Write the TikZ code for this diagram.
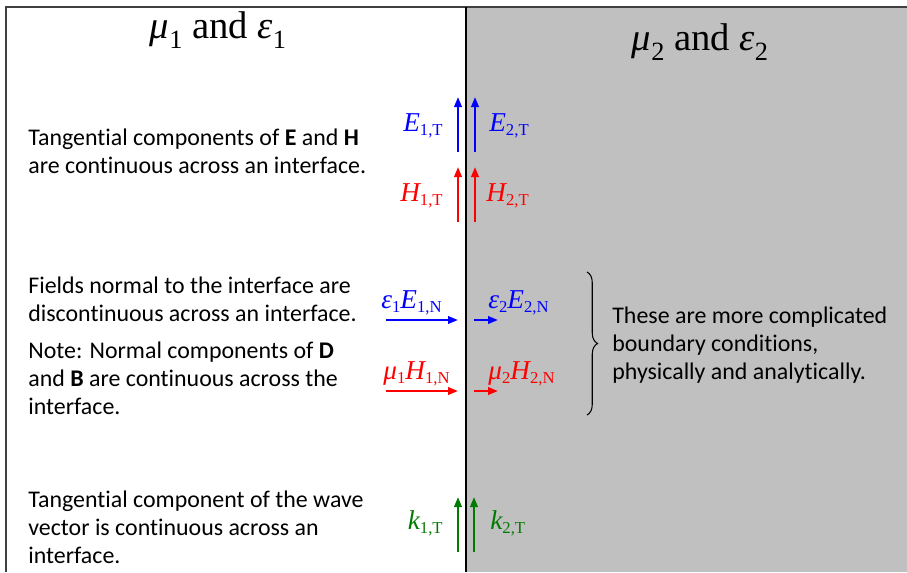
\documentclass[tikz,border=0pt]{standalone}
\usepackage{fontspec}
\setmainfont{Carlito}[Ligatures=NoCommon]
\newfontfamily\tms{Liberation Serif}
\usetikzlibrary{arrows.meta,decorations.pathreplacing}
\definecolor{fieldE}{HTML}{0000FF}
\definecolor{fieldH}{HTML}{FF0000}
\definecolor{wavek}{HTML}{007A00}
\definecolor{medium}{HTML}{C0C0C0}
\definecolor{frame}{HTML}{404040}
\tikzset{
  vec/.style={line width=1.2pt, -{Triangle[length=2.0mm,width=1.5mm]}},
  sym/.style={font=\tms\fontsize{15.5}{18}\selectfont, inner sep=0pt},
  body/.style={font=\fontsize{13.6}{15.9}\selectfont, align=left, anchor=west, inner sep=0pt},
  title/.style={font=\tms\fontsize{22}{26}\selectfont, inner sep=0pt, anchor=base}
}
\newcommand{\fieldsym}[2]{{\itshape #1}\raisebox{-0.35ex}{\fontsize{9.5}{10}\selectfont #2}}
\newcommand{\titlesym}[2]{{\itshape #1}\raisebox{-0.6ex}{\fontsize{15}{16}\selectfont #2}}

\begin{document}
\begin{tikzpicture}[x=0.02cm,y=-0.02cm]
\path[use as bounding box] (0,0) rectangle (907,572);
\fill[white] (0,0) rectangle (907,572);
\fill[medium] (466,7) rectangle (907,572);
\draw[frame, line width=1.2pt] (6,572) -- (6,7) -- (907,7);
\draw[black, line width=1.2pt] (466,7) -- (466,572);

% media
\node[title] (left) at (218,38) {\titlesym{μ}{1} and \titlesym{ε}{1}};
\node[title] (right) at (700,50) {\titlesym{μ}{2} and \titlesym{ε}{2}};

% tangential E and H
\node[body] (tangText) at (28,151) {Tangential components of \textbf{E} and \textbf{H}\\are continuous across an interface.};
\coordinate (e1a) at (458,152); \coordinate (e1b) at (458,97);
\coordinate (e2a) at (475,152); \coordinate (e2b) at (475,97);
\draw[vec, fieldE] (e1a) -- (e1b);
\draw[vec, fieldE] (e2a) -- (e2b);
\node[sym, fieldE, anchor=base east] (e1t) at (443,131) {\fieldsym{E}{1,T}};
\node[sym, fieldE, anchor=base west] (e2t) at (489,131) {\fieldsym{E}{2,T}};
\coordinate (h1a) at (458,222); \coordinate (h1b) at (458,167);
\coordinate (h2a) at (475,222); \coordinate (h2b) at (475,167);
\draw[vec, fieldH] (h1a) -- (h1b);
\draw[vec, fieldH] (h2a) -- (h2b);
\node[sym, fieldH, anchor=base east] (h1t) at (443,201) {\fieldsym{H}{1,T}};
\node[sym, fieldH, anchor=base west] (h2t) at (486,201) {\fieldsym{H}{2,T}};

% normal components
\node[body] (normText) at (28,299) {Fields normal to the interface are\\discontinuous across an interface.};
\node[body] (noteText) at (28,378) {Note: Normal components of \textbf{D}\\and \textbf{B} are continuous across the\\interface.};
\coordinate (d1a) at (386,320); \coordinate (d1b) at (458,320);
\coordinate (d2a) at (474,320); \coordinate (d2b) at (498,320);
\draw[vec, fieldE] (d1a) -- (d1b);
\draw[vec, fieldE] (d2a) -- (d2b);
\node[sym, fieldE, anchor=base west] (d1n) at (381,308) {\fieldsym{ε}{1}\fieldsym{E}{1,N}};
\node[sym, fieldE, anchor=base west] (d2n) at (488,308) {\fieldsym{ε}{2}\fieldsym{E}{2,N}};
\coordinate (b1a) at (386,391); \coordinate (b1b) at (458,391);
\coordinate (b2a) at (474,391); \coordinate (b2b) at (498,391);
\draw[vec, fieldH] (b1a) -- (b1b);
\draw[vec, fieldH] (b2a) -- (b2b);
\node[sym, fieldH, anchor=base west] (b1n) at (383,379) {\fieldsym{μ}{1}\fieldsym{H}{1,N}};
\node[sym, fieldH, anchor=base west] (b2n) at (488,379) {\fieldsym{μ}{2}\fieldsym{H}{2,N}};

\coordinate (braceTop) at (587,272); \coordinate (braceBot) at (587,415);
\draw[black, line width=0.6pt, decorate, decoration={brace, amplitude=6pt}] (braceTop) -- (braceBot);
\node[body] (braceText) at (612,345) {These are more complicated\\boundary conditions,\\physically and analytically.};

% wave vector
\node[body] (waveText) at (28,527) {Tangential component of the wave\\vector is continuous across an\\interface.};
\coordinate (k1a) at (458,552); \coordinate (k1b) at (458,497);
\coordinate (k2a) at (474,552); \coordinate (k2b) at (474,497);
\draw[vec, wavek] (k1a) -- (k1b);
\draw[vec, wavek] (k2a) -- (k2b);
\node[sym, wavek, anchor=base east] (k1t) at (443,529) {\fieldsym{k}{1,T}};
\node[sym, wavek, anchor=base west] (k2t) at (490,529) {\fieldsym{k}{2,T}};
\end{tikzpicture}
\end{document}
